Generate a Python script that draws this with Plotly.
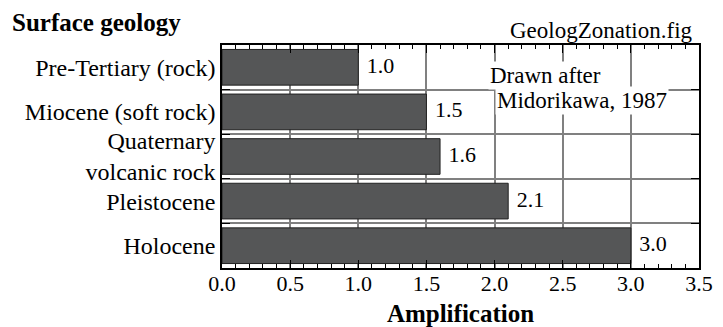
import plotly.graph_objects as go

categories = ["Pre-Tertiary (rock)", "Miocene (soft rock)", "Quaternary<br>volcanic rock", "Pleistocene", "Holocene"]
amplification = [1.0, 1.5, 1.6, 2.1, 3.0]
bar_labels = ["1.0", "1.5", "1.6", "2.1", "3.0"]

FONT = "Liberation Serif, Times New Roman, Times, serif"

fig = go.Figure()
fig.add_trace(go.Bar(
    x=amplification, y=categories, orientation="h",
    width=0.8,
    marker=dict(color="#555657", line=dict(color="#222222", width=1)),
))
fig.add_trace(go.Scatter(
    x=amplification, y=categories, mode="markers+text",
    marker=dict(size=12, color="rgba(0,0,0,0)"),
    text=bar_labels, textposition="middle right",
    textfont=dict(family=FONT, size=22, color="black"),
    cliponaxis=False, hoverinfo="skip",
))

fig.update_layout(
    width=723, height=327,
    margin=dict(l=222, r=24, t=45, b=59, autoexpand=False),
    plot_bgcolor="white", paper_bgcolor="white",
    showlegend=False,
    font=dict(family=FONT, size=22, color="black"),
    title=dict(text="<b>Surface geology</b>", x=12/723, xanchor="left",
               y=1-22/327, yanchor="middle", font=dict(family=FONT, size=25)),
    xaxis=dict(
        range=[0, 3.5], dtick=0.5, tick0=0, tickformat=".1f",
        showgrid=True, gridcolor="#808080", gridwidth=1.5,
        ticks="inside", ticklen=8, tickcolor="black",
        showline=True, linecolor="black", linewidth=1.5, mirror="ticks",
        minor=dict(dtick=0.1, ticks="inside", ticklen=4, tickcolor="black", showgrid=False),
        title=dict(text="<b>Amplification</b>", font=dict(family=FONT, size=25), standoff=10),
        tickfont=dict(family=FONT, size=22),
        ticklabelstandoff=-5,
        zeroline=False, automargin=False,
    ),
    yaxis=dict(
        type="category", categoryorder="array", categoryarray=categories,
        autorange=False, range=[4.5, -0.5],
        tickson="boundaries", showgrid=True, gridcolor="#808080", gridwidth=1.5,
        ticks="inside", ticklen=8, tickcolor="black",
        showline=True, linecolor="black", linewidth=1.5, mirror="ticks",
        tickfont=dict(family=FONT, size=24),
        ticklabelstandoff=0, automargin=False,
    ),
)

fig.add_annotation(text="GeologZonation.fig", xref="paper", yref="paper",
                   x=(695-222)/477, y=(268-30)/223, xanchor="right", yanchor="middle",
                   showarrow=False, font=dict(family=FONT, size=23))
fig.add_annotation(text="Drawn after", xref="x", yref="paper",
                   x=1.95, y=(268-76)/223, xanchor="left", yanchor="middle",
                   showarrow=False, bgcolor="white", borderpad=1,
                   font=dict(family=FONT, size=23))
fig.add_annotation(text="Midorikawa, 1987", xref="x", yref="paper",
                   x=2.0, y=(268-101)/223, xanchor="left", yanchor="middle",
                   showarrow=False, bgcolor="white", borderpad=1,
                   font=dict(family=FONT, size=23))

fig.write_html("out.html", config={"displayModeBar": False},
               post_script="document.body.style.margin='0';")
